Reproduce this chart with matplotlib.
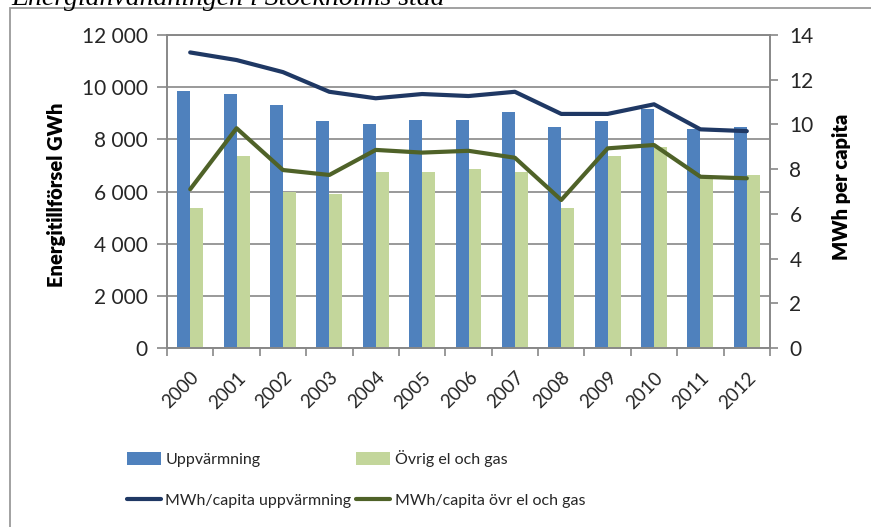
import matplotlib.pyplot as plt
import matplotlib.patches as mpatches
import numpy as np

plt.rcParams['font.family'] = ['Lato', 'DejaVu Sans']

# energy supply per year (GWh) and per capita (MWh)
years = ['2000', '2001', '2002', '2003', '2004', '2005', '2006',
         '2007', '2008', '2009', '2010', '2011', '2012']
uppvarmning = [9850, 9730, 9320, 8700, 8570, 8760, 8760,
               9040, 8480, 8700, 9170, 8380, 8460]
ovrig = [5350, 7360, 5990, 5890, 6730, 6730, 6880,
         6740, 5350, 7360, 7710, 6500, 6650]
cap_uppv = [13.22, 12.88, 12.34, 11.46, 11.17, 11.36, 11.27,
            11.46, 10.47, 10.47, 10.90, 9.78, 9.70]
cap_ovrig = [7.10, 9.83, 7.96, 7.74, 8.86, 8.74, 8.82,
             8.51, 6.62, 8.93, 9.08, 7.66, 7.59]

c_blue = '#4F81BD'
c_lgreen = '#C3D69B'
c_navy = '#1F3864'
c_green = '#4F6228'
c_grid = '#888888'
c_text = '#262626'

fig = plt.figure(figsize=(8.71, 5.27), dpi=100)

# outer chart frame, runs past the right and bottom edges
fig.patches.append(mpatches.Rectangle((10 / 871, -0.05), 1.1, 1 - 8 / 527 + 0.05,
                                      transform=fig.transFigure, fill=False,
                                      edgecolor='#9A9A9A', lw=1.3))
fig.text(11 / 871, 1 - 5 / 527, 'Energianvändningen i Stockholms stad',
         family='Liberation Serif', style='italic', fontsize=20,
         va='baseline', ha='left', color='black')

ax = fig.add_axes([167 / 871, 1 - 348 / 527, 603 / 871, 313 / 527])
x = np.arange(len(years))
w = 0.28
ax.bar(x - w / 2, uppvarmning, w, color=c_blue, label='Uppvärmning', zorder=2)
ax.bar(x + w / 2, ovrig, w, color=c_lgreen, label='Övrig el och gas', zorder=2)

ax.set_xlim(-0.5, len(years) - 0.5)
ax.set_ylim(0, 12000)
ax.set_yticks(np.arange(0, 12001, 2000))
ax.set_yticklabels(['0', '2 000', '4 000', '6 000', '8 000', '10 000', '12 000'])
ax.yaxis.grid(True, color=c_grid, lw=1.2, zorder=0)
ax.set_axisbelow(True)
ax.set_xticks(x)
ax.set_xticklabels(years, rotation=45, ha='right', rotation_mode='anchor')
ax.set_xticks(np.arange(-0.5, len(years), 1), minor=True)
ax.tick_params(axis='x', which='major', length=0, pad=15, labelsize=13.5,
               labelcolor=c_text)
ax.tick_params(axis='x', which='minor', length=6, color=c_grid, width=1.2,
               direction='out')
ax.tick_params(axis='y', length=7, color=c_grid, width=1.2, labelsize=15,
               labelcolor=c_text, pad=7)
for s in ax.spines.values():
    s.set_color(c_grid)
    s.set_linewidth(1.2)
ax.set_ylabel('Energitillförsel GWh', fontsize=14.5, fontweight='heavy',
              color='black')
ax.yaxis.set_label_coords(-0.167, 0.49)

ax2 = ax.twinx()
ax2.plot(x, cap_uppv, color=c_navy, lw=3.0, label='MWh/capita uppvärmning',
         solid_capstyle='round', zorder=3)
ax2.plot(x, cap_ovrig, color=c_green, lw=3.0, label='MWh/capita övr el och gas',
         solid_capstyle='round', zorder=3)
ax2.set_ylim(0, 14)
ax2.set_yticks(np.arange(0, 15, 2))
ax2.tick_params(axis='y', length=6, color=c_grid, width=1.2, labelsize=15,
                labelcolor=c_text, pad=8)
for s in ax2.spines.values():
    s.set_color(c_grid)
    s.set_linewidth(1.2)
ax2.set_ylabel('MWh per capita', fontsize=14.5, fontweight='heavy',
               color='black')
ax2.yaxis.set_label_coords(1.103, 0.515)

h1, l1 = ax.get_legend_handles_labels()
h2, l2 = ax2.get_legend_handles_labels()
fig.legend([h1[0], h2[0], h1[1], h2[1]], [l1[0], l2[0], l1[1], l2[1]],
           ncol=2, loc='upper left',
           bbox_to_anchor=(119 / 871, 1 - 442 / 527), frameon=False,
           fontsize=11.5, handlelength=2.1, handleheight=0.8,
           handletextpad=0.3, columnspacing=0.3, labelspacing=1.65,
           labelcolor=c_text, borderpad=0)

fig.savefig('out.png', dpi=100)
